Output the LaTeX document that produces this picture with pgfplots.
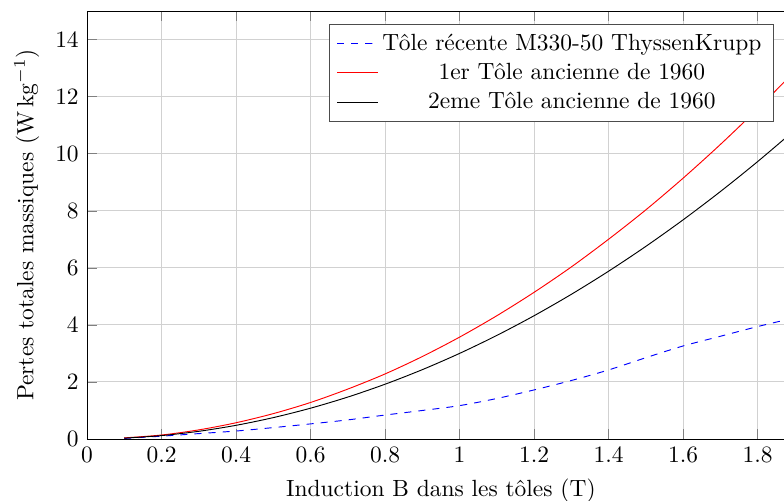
\documentclass[border=0pt]{standalone}
\usepackage{pgfplots}
\pgfplotsset{compat=1.18}
\begin{document}
\begin{tikzpicture}
\begin{axis}[
  scale only axis,
  width=301.8pt, height=182.5pt,
  xmin=0, xmax=1.9, ymin=0, ymax=15,
  xtick={0,0.2,...,1.8},
  ytick={0,2,...,14},
  grid=major,
  major grid style={black!18},
  xlabel={Induction B dans les tôles (T)},
  ylabel={Pertes totales massiques (W\,kg$^{-1}$)},
  legend pos=north east,
  legend cell align=center,
  legend style={draw=black!70},
]
\addplot[blue, dashed, smooth] coordinates {
(0.1,0.02) (0.2,0.10) (0.3,0.19) (0.4,0.28) (0.5,0.40) (0.6,0.53) (0.7,0.67)
(0.8,0.84) (0.9,1.00) (1.0,1.17) (1.1,1.42) (1.2,1.72) (1.3,2.05) (1.4,2.42)
(1.5,2.85) (1.6,3.26) (1.7,3.60) (1.8,3.94) (1.9,4.25)};
\addlegendentry{Tôle récente M330-50 ThyssenKrupp}
\addplot[red, smooth] coordinates {
(0.1,0.04) (0.2,0.14) (0.3,0.32) (0.4,0.57) (0.5,0.89) (0.6,1.28) (0.7,1.75)
(0.8,2.28) (0.9,2.89) (1.0,3.57) (1.1,4.32) (1.2,5.14) (1.3,6.03) (1.4,7.00)
(1.5,8.03) (1.6,9.14) (1.7,10.32) (1.8,11.57) (1.9,12.89)};
\addlegendentry{1er Tôle ancienne de 1960}
\addplot[black, smooth] coordinates {
(0.1,0.03) (0.2,0.12) (0.3,0.27) (0.4,0.48) (0.5,0.75) (0.6,1.08) (0.7,1.47)
(0.8,1.92) (0.9,2.43) (1.0,3.00) (1.1,3.63) (1.2,4.32) (1.3,5.07) (1.4,5.88)
(1.5,6.75) (1.6,7.68) (1.7,8.67) (1.8,9.72) (1.9,10.83)};
\addlegendentry{2eme Tôle ancienne de 1960}
\end{axis}
\pgfresetboundingbox
\useasboundingbox (-37.1pt,-26.4pt) rectangle (297.2pt,187.2pt);
\end{tikzpicture}
\end{document}
